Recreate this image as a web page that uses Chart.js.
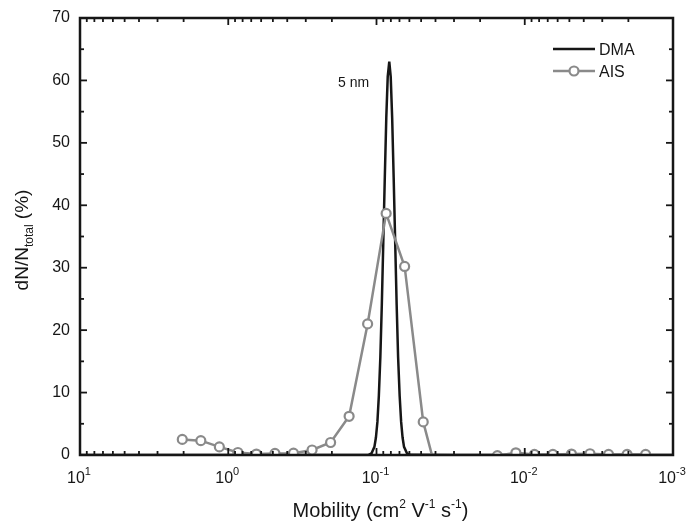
<!DOCTYPE html>
<html>
<head>
<meta charset="utf-8">
<script src="https://cdn.jsdelivr.net/npm/chart.js@4.4.1/dist/chart.umd.min.js"></script>
<style>
  html, body { margin: 0; padding: 0; background: #fff; }
  canvas { display: block; }
</style>
</head>
<body>
<canvas id="mobilityChart" width="690" height="524"></canvas>
<script>
// AIS measured distribution (mobility in cm2/V/s, percent)
const aisMobility = [2.042, 1.531, 1.148, 0.861, 0.646, 0.484, 0.363, 0.272, 0.204, 0.153,
    0.1148, 0.0861, 0.0646, 0.0484, 0.0363, 0.0272, 0.0204, 0.0153, 0.01148, 0.00861,
    0.00646, 0.00484, 0.00363, 0.00272, 0.00204, 0.00153];
const aisPercent = [2.5, 2.3, 1.3, 0.4, 0.15, 0.25, 0.3, 0.8, 2.0, 6.2,
    21.0, 38.7, 30.2, 5.3, -6.0, -4.0, -2.0, -0.1, 0.35, 0.1,
    0.1, 0.15, 0.2, 0.1, 0.1, 0.1];

// DMA reference peak (5 nm)
const dmaMobility = [10, 0.2, 0.1133, 0.1082, 0.1033, 0.1009, 0.0986, 0.0964, 0.0942, 0.0921,
    0.0900, 0.0879, 0.0859, 0.0840, 0.0820, 0.0802, 0.0784, 0.0766, 0.0748, 0.0731,
    0.0715, 0.0698, 0.0682, 0.0667, 0.0652, 0.0622, 0.0594, 0.03, 0.001];
const dmaPercent = [0, 0, 0.03, 0.24, 1.3, 2.8, 5.3, 9.5, 15.7, 24.0,
    34.0, 44.5, 54.0, 60.6, 63.0, 60.6, 54.0, 44.5, 34.0, 24.0,
    15.7, 9.5, 5.3, 2.8, 1.3, 0.24, 0.03, 0, 0];

const yTicks = [0, 10, 20, 30, 40, 50, 60, 70];
const xDecades = [1, 0, -1, -2, -3];

const ink = '#161616';
const grey = '#8a8a8a';
const font = '"Liberation Sans", Arial, sans-serif';

// frame, inward ticks, labels, titles and legend
const framePlugin = {
    id: 'framePlugin',
    afterDraw(chart) {
        const { ctx, chartArea: a, scales: { x, y } } = chart;
        const line = (x1, y1, x2, y2) => {
            ctx.beginPath(); ctx.moveTo(x1, y1); ctx.lineTo(x2, y2); ctx.stroke();
        };
        ctx.save();
        ctx.strokeStyle = ink;
        ctx.fillStyle = ink;

        // y ticks (left + right)
        ctx.lineWidth = 1.8;
        for (let v = 0; v <= 70; v += 5) {
            const py = y.getPixelForValue(v);
            const len = v % 10 === 0 ? 7 : 4;
            line(a.left, py, a.left + len, py);
            line(a.right, py, a.right - len, py);
        }
        // x ticks (bottom + top), log
        for (let e = -3; e <= 1; e++) {
            for (let m = 1; m < 10; m++) {
                if (e === 1 && m > 1) break;
                const px = x.getPixelForValue(m * Math.pow(10, e));
                const len = m === 1 ? 7 : 4;
                line(px, a.bottom, px, a.bottom - len);
                line(px, a.top, px, a.top + len);
            }
        }
        ctx.lineWidth = 2.5;
        ctx.strokeRect(a.left, a.top, a.right - a.left, a.bottom - a.top);

        // y tick labels
        ctx.font = '16px ' + font;
        ctx.textAlign = 'right';
        ctx.textBaseline = 'middle';
        yTicks.forEach(v => ctx.fillText(String(v), a.left - 10, y.getPixelForValue(v)));

        // x tick labels 10^n
        ctx.textAlign = 'left';
        ctx.textBaseline = 'alphabetic';
        xDecades.forEach(e => {
            const px = x.getPixelForValue(Math.pow(10, e));
            ctx.font = '16px ' + font;
            const wb = ctx.measureText('10').width;
            ctx.font = '11px ' + font;
            const ws = ctx.measureText(String(e)).width;
            const x0 = px - (wb + ws) / 2 - 1;
            ctx.font = '16px ' + font;
            ctx.fillText('10', x0, 483);
            ctx.font = '11px ' + font;
            ctx.fillText(String(e), x0 + wb, 475);
        });

        // x axis title with superscripts
        const parts = [['Mobility (cm', 0], ['2', 1], [' V', 0], ['-1', 1], [' s', 0], ['-1', 1], [')', 0]];
        const setF = sup => { ctx.font = (sup ? '12px ' : '20px ') + font; };
        let total = 0;
        parts.forEach(([t, s]) => { setF(s); total += ctx.measureText(t).width; });
        let cx = (a.left + a.right) / 2 + 4 - total / 2;
        parts.forEach(([t, s]) => {
            setF(s);
            ctx.fillText(t, cx, s ? 508 : 517);
            cx += ctx.measureText(t).width;
        });

        // y axis title, rotated, with subscript
        ctx.save();
        ctx.translate(28, 240);
        ctx.rotate(-Math.PI / 2);
        const yparts = [['dN/N', 0, 19], ['total', 5, 12], [' (%)', 0, 19]];
        let ytot = 0;
        yparts.forEach(([t, d, f]) => { ctx.font = f + 'px ' + font; ytot += ctx.measureText(t).width; });
        let yx = -ytot / 2;
        yparts.forEach(([t, d, f]) => {
            ctx.font = f + 'px ' + font;
            ctx.fillText(t, yx, d);
            yx += ctx.measureText(t).width;
        });
        ctx.restore();

        // annotation
        ctx.font = '14px ' + font;
        ctx.fillText('5 nm', 338, 87);

        // legend
        ctx.lineWidth = 2.5;
        ctx.strokeStyle = ink;
        line(553, 49, 595, 49);
        ctx.strokeStyle = grey;
        line(553, 71, 595, 71);
        ctx.beginPath();
        ctx.arc(574, 71, 4.5, 0, Math.PI * 2);
        ctx.fillStyle = '#fff';
        ctx.fill();
        ctx.lineWidth = 2.2;
        ctx.stroke();
        ctx.fillStyle = ink;
        ctx.font = '16px ' + font;
        ctx.fillText('DMA', 599, 55);
        ctx.fillText('AIS', 599, 77);

        ctx.restore();
    }
};

const ctx = document.getElementById('mobilityChart').getContext('2d');
new Chart(ctx, {
    type: 'scatter',
    data: {
        datasets: [
            {
                label: 'DMA',
                data: dmaMobility.map((m, i) => ({ x: m, y: dmaPercent[i] })),
                showLine: true,
                borderColor: ink,
                borderWidth: 2.5,
                pointRadius: 0,
                clip: 0,
                order: 2
            },
            {
                label: 'AIS',
                data: aisMobility.map((m, i) => ({ x: m, y: aisPercent[i] })),
                showLine: true,
                borderColor: grey,
                borderWidth: 2.5,
                pointRadius: 4.5,
                pointBorderWidth: 2.2,
                pointBorderColor: grey,
                pointBackgroundColor: '#fff',
                clip: 0,
                order: 1
            }
        ]
    },
    options: {
        responsive: false,
        animation: false,
        devicePixelRatio: 1,
        layout: { padding: { left: 80, right: 17, top: 18, bottom: 69 } },
        plugins: { legend: { display: false }, tooltip: { enabled: false } },
        scales: {
            x: { type: 'logarithmic', reverse: true, min: 0.001, max: 10, display: false },
            y: { min: 0, max: 70, display: false }
        }
    },
    plugins: [framePlugin]
});
</script>
</body>
</html>
